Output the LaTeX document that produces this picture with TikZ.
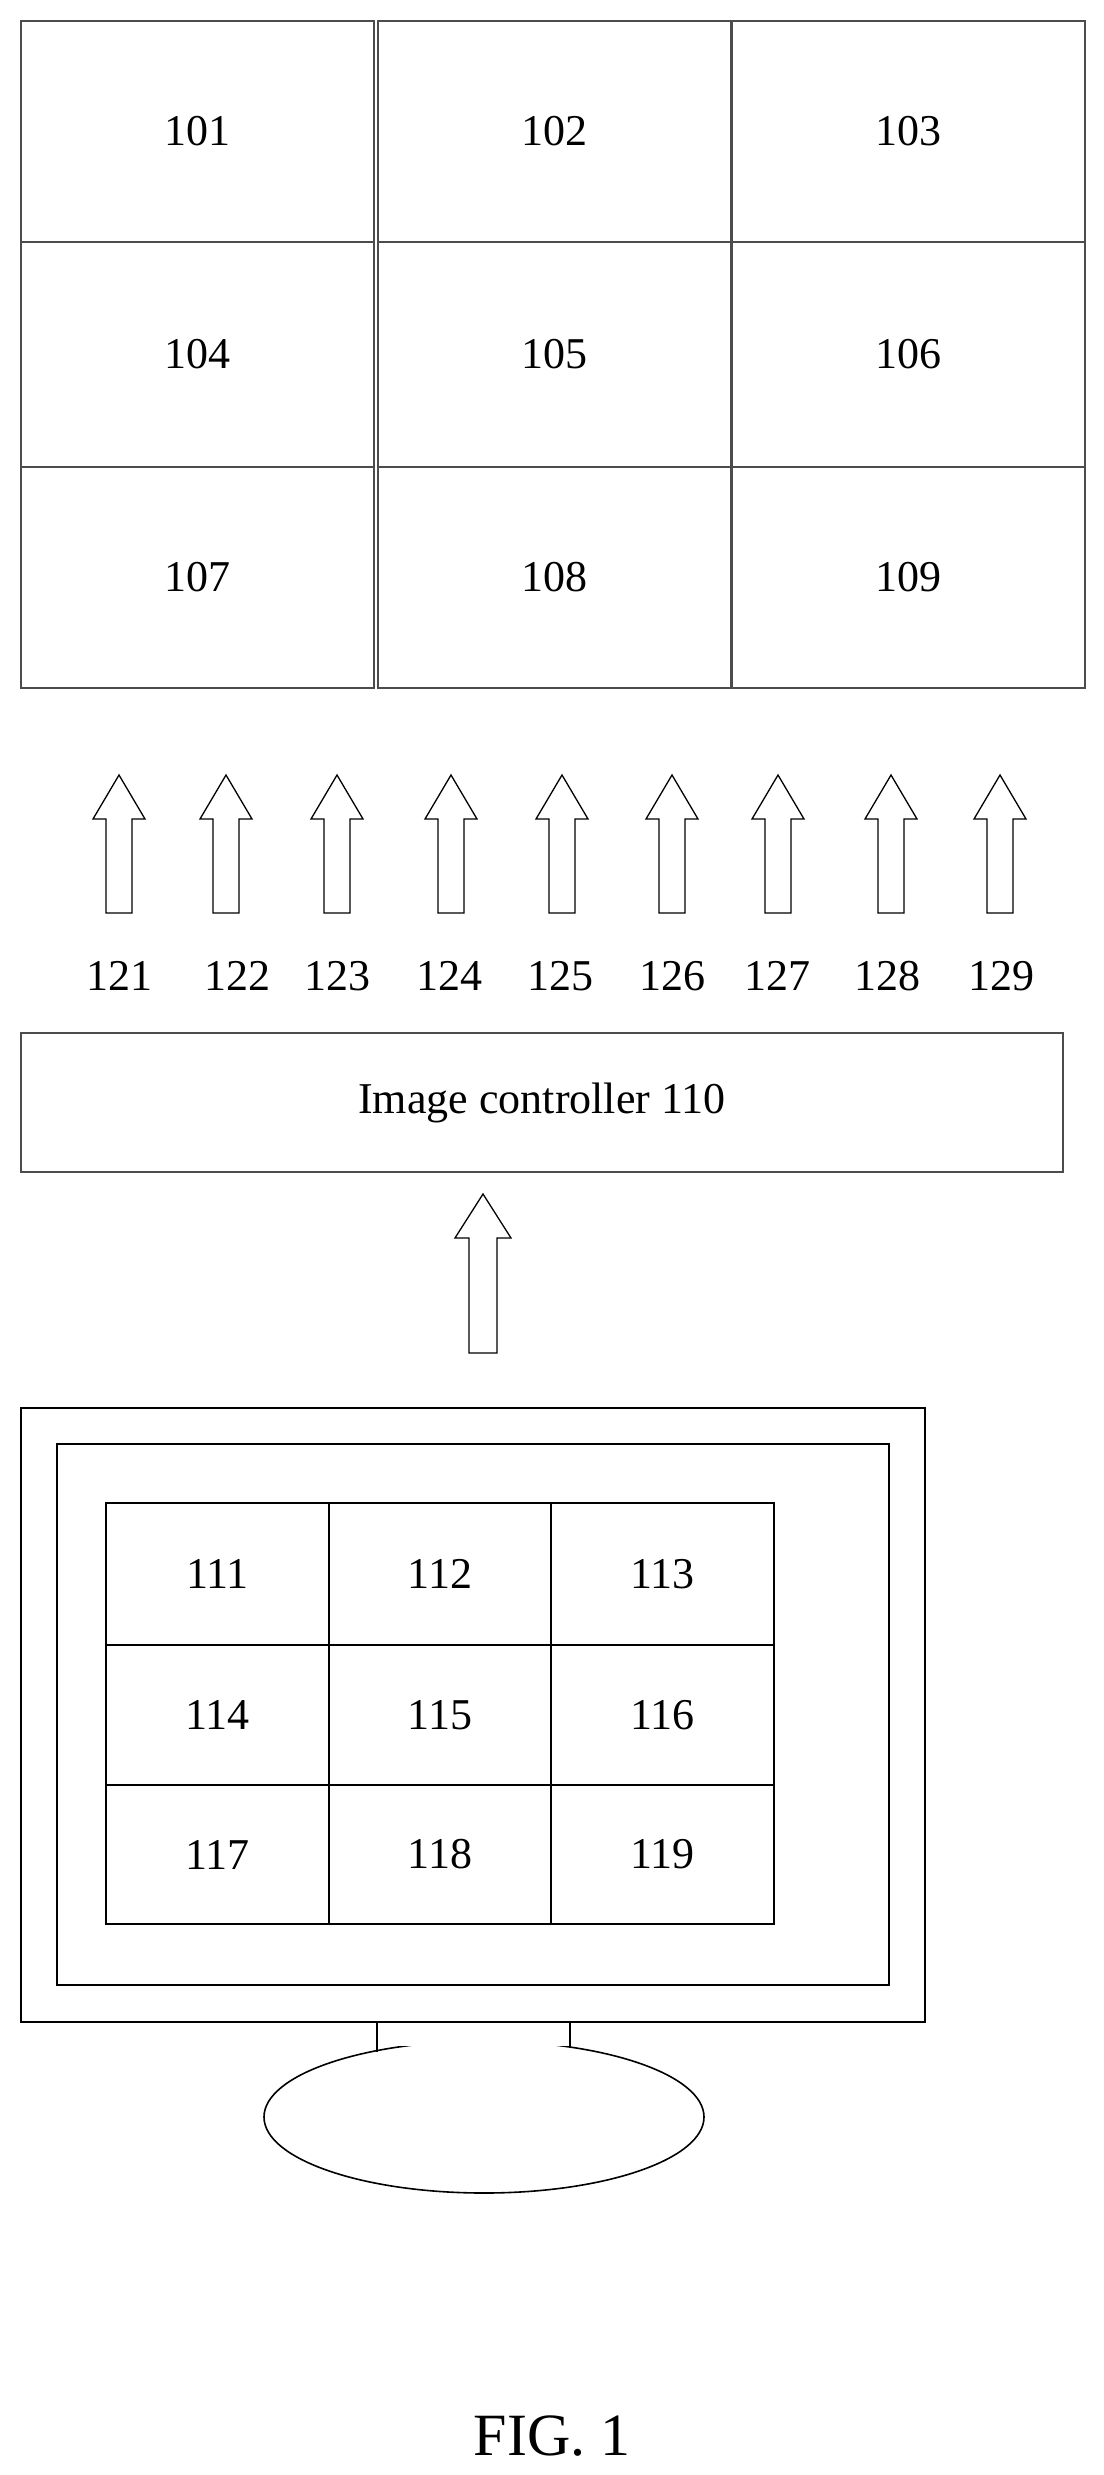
\documentclass[tikz,border=0pt]{standalone}
\usetikzlibrary{shapes.geometric}
\usepackage{fontspec}
\setmainfont{Liberation Serif}
\begin{document}
\begin{tikzpicture}[x=1pt,y=-1pt,
  lbl/.style={font=\fontsize{44}{48}\selectfont},
  uparrow/.style={draw=black,line width=1.3pt,fill=white}]
\useasboundingbox (0,0) rectangle (1103,2475);
% top grid
\foreach \c/\x in {0/21,1/378,2/732}{
  \foreach \r/\y in {0/21,1/242,2/467}{
    \pgfmathtruncatemacro{\n}{101+\r*3+\c}
    \pgfmathsetmacro{\ye}{\r==2 ? 688 : (\r==1 ? 467 : 242)}
    \draw[black!70,line width=1.2pt] (\x,\y) rectangle ++(353,\ye-\y);
    \node[lbl] (t\n) at (\x+176,{(\y+\ye)/2}) {\n};
  }}
% arrows
\foreach \i/\x/\lx in {1/119/119,2/226/237,3/337/337,4/451/449,5/562/560,6/672/672,7/778/777,8/891/887,9/1000/1001}{
  \draw[uparrow] (\x-13,913) -- (\x-13,819) -- (\x-26,819) -- (\x,775) -- (\x+26,819) -- (\x+13,819) -- (\x+13,913) -- cycle;
  \node[lbl] (a12\i) at (\lx,976) {12\i};
}
% controller
\node[draw=black!70,line width=1.2pt,minimum width=1042pt,minimum height=139pt,inner sep=0pt,lbl] (ctrl) at (542,1102.5) {Image controller 110};
% big arrow
\draw[uparrow] (469,1353) -- (469,1238) -- (455,1238) -- (483,1194) -- (511,1238) -- (497,1238) -- (497,1353) -- cycle;
% monitor
\draw[line width=1.6pt] (21,1408) rectangle (925,2022);
\draw[line width=2.2pt] (57,1444) rectangle (889,1985);
\foreach \c/\x/\xe in {0/106/329,1/329/551,2/551/774}{
  \foreach \r/\y/\ye in {0/1503/1645,1/1645/1785,2/1785/1924}{
    \pgfmathtruncatemacro{\n}{111+\r*3+\c}
    \draw[line width=1.1pt] (\x,\y) rectangle (\xe,\ye);
    \node[lbl] (m\n) at ({(\x+\xe)/2},{(\y+\ye)/2}) {\n};
  }}
\node[draw,line width=1.6pt,ellipse,minimum width=440pt,minimum height=152pt,inner sep=0pt] (base) at (484,2117) {};
\fill[white] (378.5,2030) rectangle (568.5,2046);
\draw[line width=1.6pt] (377,2022) -- (377,2051.5) (570,2022) -- (570,2048);
\node[font=\fontsize{60}{66}\selectfont] (fig) at (552,2436) {FIG. 1};
\end{tikzpicture}
\end{document}
